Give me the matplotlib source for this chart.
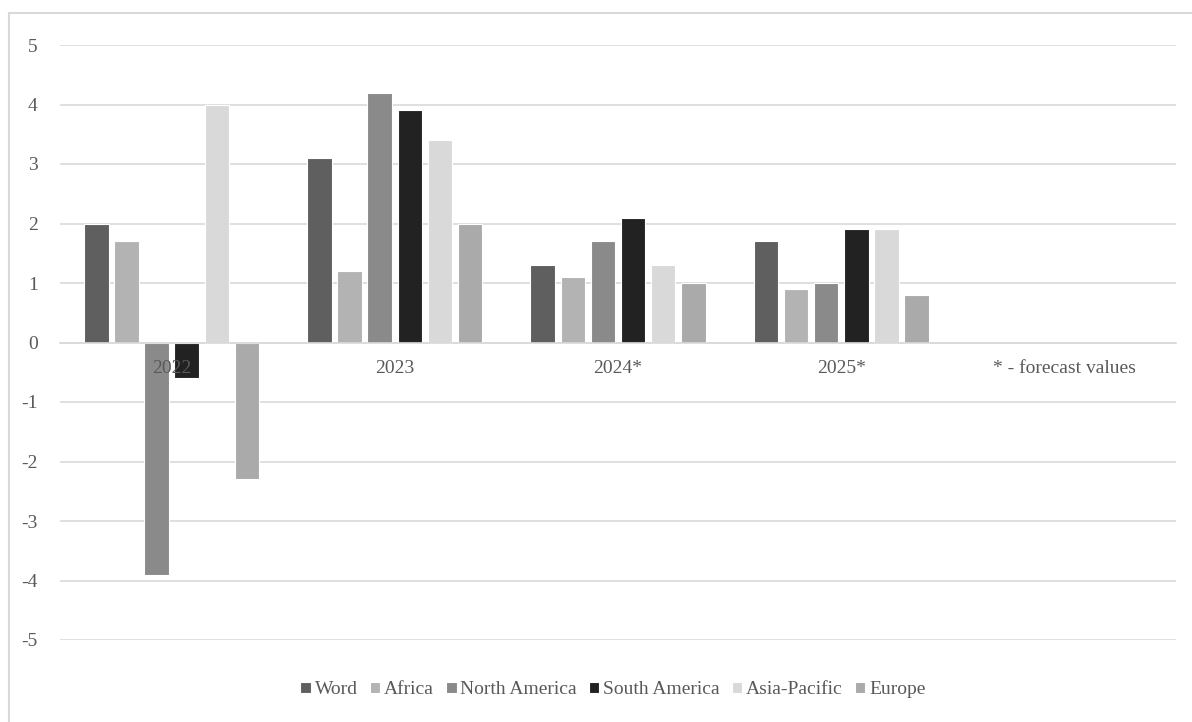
import numpy as np
import matplotlib.pyplot as plt
from matplotlib.lines import Line2D

plt.rcParams['font.family'] = ['Liberation Serif', 'DejaVu Serif']
plt.rcParams['axes.unicode_minus'] = False

# Data
categories = ['2022', '2023', '2024*', '2025*', '* - forecast values']
series_names = ['Word', 'Africa', 'North America', 'South America', 'Asia-Pacific', 'Europe']
word = [2.0, 3.1, 1.3, 1.7]
africa = [1.7, 1.2, 1.1, 0.9]
north_america = [-3.9, 4.2, 1.7, 1.0]
south_america = [-0.6, 3.9, 2.1, 1.9]
asia_pacific = [4.0, 3.4, 1.3, 1.9]
europe = [-2.3, 2.0, 1.0, 0.8]
colors = ['#5f5f5f', '#b3b3b3', '#8a8a8a', '#222222', '#d9d9d9', '#aaaaaa']

series = [word, africa, north_america, south_america, asia_pacific, europe]

fig = plt.figure(figsize=(11.92, 7.22), dpi=100)
ax = fig.add_axes([60 / 1192, 1 - 640 / 722, 1116 / 1192, 595 / 722])

step = 0.135
width = 0.11
x = np.arange(len(word))
for i, (name, vals, c) in enumerate(zip(series_names, series, colors)):
    offs = (i - 2.5) * step
    ax.bar(x + offs, vals, width, color=c, edgecolor='white', linewidth=0.8,
           label=name, zorder=2)

ax.set_xlim(-0.5, len(categories) - 0.5)
ax.set_ylim(-5, 5)
ax.set_yticks(range(-5, 6))
ax.yaxis.grid(True, color='#d9d9d9', linewidth=1.2, zorder=0)
ax.set_axisbelow(True)

# category labels sit just under the zero line, on top of the bars
ax.set_xticks([])
for i, lab in enumerate(categories):
    ax.annotate(lab, (i, 0), xytext=(0, -19), textcoords='offset points',
                ha='center', va='center', fontsize=14, color='#595959', zorder=5)

ax.spines['bottom'].set_position(('data', 0))
ax.spines['bottom'].set_color('#d9d9d9')
ax.spines['bottom'].set_linewidth(1.2)
for s in ['top', 'right', 'left']:
    ax.spines[s].set_visible(False)
ax.tick_params(axis='y', length=0, pad=16, labelsize=14, labelcolor='#595959')

ax.legend(loc='center', bbox_to_anchor=((613 - 60) / 1116, -50 / 595), ncol=6,
          frameon=False, fontsize=14, labelcolor='#595959', handlelength=0.55,
          handleheight=0.55, handletextpad=0.2, columnspacing=0.6)

# light frame of the chart area (only left and top edges are in view)
fig.add_artist(Line2D([9 / 1192, 9 / 1192], [0, 1 - 13 / 722], color='#d9d9d9', linewidth=1.5))
fig.add_artist(Line2D([9 / 1192, 1], [1 - 13 / 722, 1 - 13 / 722], color='#d9d9d9', linewidth=1.5))

fig.savefig('out.png', dpi=100)
